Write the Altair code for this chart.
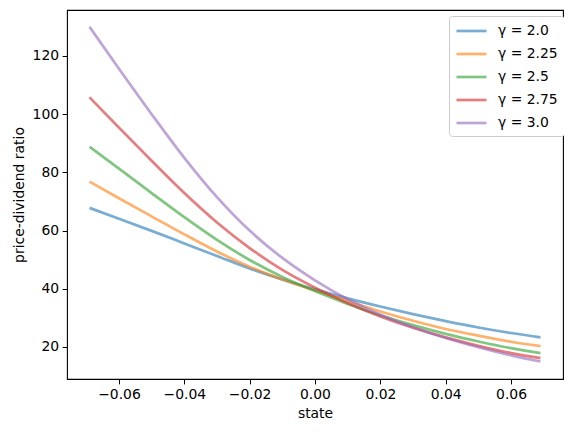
import altair as alt
import pandas as pd

state = [-0.069, -0.06, -0.05, -0.04, -0.03, -0.02, -0.01, 0.0, 0.01, 0.02, 0.03, 0.04, 0.05, 0.06, 0.069]
g20 = [67.8, 64.1, 59.9, 55.6, 51.3, 47.0, 43.2, 39.8, 36.7, 33.9, 31.3, 28.9, 26.7, 24.8, 23.3]
g225 = [76.8, 71.1, 64.9, 58.7, 52.8, 47.6, 43.2, 39.4, 35.8, 32.2, 29.0, 26.2, 23.9, 21.8, 20.3]
g25 = [88.8, 81.3, 72.9, 64.6, 56.8, 49.9, 44.1, 39.2, 34.8, 30.9, 27.5, 24.5, 21.9, 19.6, 17.9]
g275 = [105.8, 95.4, 84.0, 72.9, 62.8, 54.0, 46.5, 40.4, 35.1, 30.5, 26.6, 23.3, 20.4, 17.9, 16.2]
g30 = [130.0, 115.6, 100.0, 85.0, 71.5, 60.0, 50.6, 42.9, 36.4, 31.1, 26.8, 23.1, 19.9, 17.1, 15.0]

labels = ["γ = 2.0", "γ = 2.25", "γ = 2.5", "γ = 2.75", "γ = 3.0"]
colors = ["#1f77b4", "#ff7f0e", "#2ca02c", "#d62728", "#9467bd"]
x_ticks = [-0.06, -0.04, -0.02, 0.0, 0.02, 0.04, 0.06]
y_ticks = [20, 40, 60, 80, 100, 120]

rows = []
for lab, vals in zip(labels, [g20, g225, g25, g275, g30]):
    for s, v in zip(state, vals):
        rows.append({"state": s, "value": v, "series": lab})
df = pd.DataFrame(rows)

FONT = "DejaVu Sans"

chart = alt.Chart(df).mark_line(strokeWidth=2.7, opacity=0.6, interpolate="monotone").encode(
    x=alt.X("state:Q",
            scale=alt.Scale(domain=[-0.0759, 0.0759], nice=False, zero=False),
            axis=alt.Axis(title="state", values=x_ticks, format=".2f", grid=False,
                          tickSize=4.9, labelPadding=3.5, titlePadding=5, domain=False,
                          ticks=True, tickColor="black", labelColor="black",
                          labelFontSize=13.9, titleFontSize=13.9, labelFont=FONT,
                          titleFont=FONT, titleFontWeight="normal", titleColor="black",
                          labelFlush=False)),
    y=alt.Y("value:Q",
            scale=alt.Scale(domain=[9.0, 135.8], nice=False, zero=False),
            axis=alt.Axis(title="price-dividend ratio", values=y_ticks, format="d", grid=False,
                          tickSize=4.9, labelPadding=3.5, titlePadding=6, domain=False,
                          tickColor="black", labelColor="black",
                          labelFontSize=13.9, titleFontSize=13.9, labelFont=FONT,
                          titleFont=FONT, titleFontWeight="normal", titleColor="black",
                          labelFlush=False)),
    color=alt.Color("series:N",
                    scale=alt.Scale(domain=labels, range=colors),
                    legend=alt.Legend(title=None, orient="none", legendX=382, legendY=6,
                                      symbolType="M-1,0L3,0", symbolSize=225,
                                      symbolStrokeWidth=2.7, symbolOpacity=0.6,
                                      labelOffset=25, labelFontSize=13.9, labelFont=FONT,
                                      labelColor="black", rowPadding=7, padding=6,
                                      fillColor="white", strokeColor="#cccccc",
                                      cornerRadius=3)),
).properties(
    width=496, height=369,
    autosize=alt.AutoSizeParams(type="none"),
    padding={"left": 59, "top": 2, "right": 1, "bottom": 45},
).configure(background="white").configure_view(stroke="black", strokeWidth=1.1, strokeOpacity=1)

chart.save("out.html", embed_options={"renderer": "svg", "actions": False})
